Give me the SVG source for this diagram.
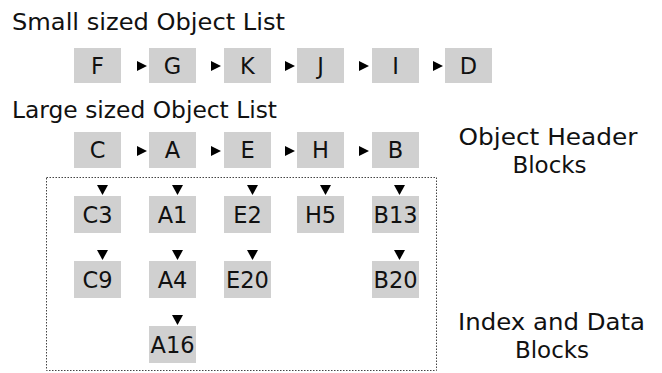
<svg xmlns="http://www.w3.org/2000/svg" width="662" height="373" viewBox="0 0 662 373">
<style>
.box{fill:#d0d0d0}
.lbl{font-family:"DejaVu Sans",Verdana,sans-serif;font-size:22.5px;fill:#111;text-anchor:middle}
.ttl{font-family:"DejaVu Sans",Verdana,sans-serif;font-size:23px;fill:#111}
.cap{font-family:"DejaVu Sans",Verdana,sans-serif;font-size:23px;fill:#111;text-anchor:middle}
.arr{fill:#000}
.frame{fill:none;stroke:#444;stroke-width:1;stroke-dasharray:1.5 1.5}
</style>
<rect width="662" height="373" fill="#fff"/>
<text class="ttl" x="12" y="30" textLength="273" lengthAdjust="spacingAndGlyphs">Small sized Object List</text>
<text class="ttl" x="12" y="118" textLength="265" lengthAdjust="spacingAndGlyphs">Large sized Object List</text>
<text class="cap" x="548" y="145" textLength="179" lengthAdjust="spacingAndGlyphs">Object Header</text>
<text class="cap" x="549.5" y="173">Blocks</text>
<text class="cap" x="551.5" y="330" textLength="187" lengthAdjust="spacingAndGlyphs">Index and Data</text>
<text class="cap" x="552" y="358">Blocks</text>
<rect class="frame" x="46.5" y="177.5" width="390" height="193"/>
<g id="small-list">
<g id="nF"><rect class="box" x="74" y="48" width="47" height="35"/><text class="lbl" x="97.5" y="74">F</text></g>
<g id="nG"><rect class="box" x="149" y="48" width="47" height="35"/><text class="lbl" x="172.5" y="74">G</text></g>
<g id="nK"><rect class="box" x="224" y="48" width="47" height="35"/><text class="lbl" x="247.5" y="74">K</text></g>
<g id="nJ"><rect class="box" x="297" y="48" width="47" height="35"/><text class="lbl" x="320.5" y="74">J</text></g>
<g id="nI"><rect class="box" x="372" y="48" width="47" height="35"/><text class="lbl" x="395.5" y="74">I</text></g>
<g id="nD"><rect class="box" x="445" y="48" width="47" height="35"/><text class="lbl" x="468.5" y="74">D</text></g>
</g>
<g id="large-list">
<g id="nC"><rect class="box" x="74" y="132" width="47" height="36"/><text class="lbl" x="97.5" y="158">C</text></g>
<g id="nA"><rect class="box" x="149" y="132" width="47" height="36"/><text class="lbl" x="172.5" y="158">A</text></g>
<g id="nE"><rect class="box" x="224" y="132" width="47" height="36"/><text class="lbl" x="247.5" y="158">E</text></g>
<g id="nH"><rect class="box" x="297" y="132" width="47" height="36"/><text class="lbl" x="320.5" y="158">H</text></g>
<g id="nB"><rect class="box" x="372" y="132" width="47" height="36"/><text class="lbl" x="395.5" y="158">B</text></g>
</g>
<g id="blocks">
<g id="nC3"><rect class="box" x="74" y="196" width="47" height="37"/><text class="lbl" x="97.5" y="222.5">C3</text></g>
<g id="nA1"><rect class="box" x="149" y="196" width="47" height="37"/><text class="lbl" x="172.5" y="222.5">A1</text></g>
<g id="nE2"><rect class="box" x="224" y="196" width="47" height="37"/><text class="lbl" x="247.5" y="222.5">E2</text></g>
<g id="nH5"><rect class="box" x="297" y="196" width="47" height="37"/><text class="lbl" x="320.5" y="222.5">H5</text></g>
<g id="nB13"><rect class="box" x="372" y="196" width="47" height="37"/><text class="lbl" x="395.5" y="222.5">B13</text></g>
<g id="nC9"><rect class="box" x="74" y="261" width="47" height="37"/><text class="lbl" x="97.5" y="287.5">C9</text></g>
<g id="nA4"><rect class="box" x="149" y="261" width="47" height="37"/><text class="lbl" x="172.5" y="287.5">A4</text></g>
<g id="nE20"><rect class="box" x="224" y="261" width="47" height="37"/><text class="lbl" x="247.5" y="287.5">E20</text></g>
<g id="nB20"><rect class="box" x="372" y="261" width="47" height="37"/><text class="lbl" x="395.5" y="287.5">B20</text></g>
<g id="nA16"><rect class="box" x="149" y="326" width="47" height="37"/><text class="lbl" x="172.5" y="352.5">A16</text></g>
</g>
<g id="connectors" class="arr">
<polygon points="137,61 137,71 147,66"/>
<polygon points="211,61 211,71 221,66"/>
<polygon points="285,61 285,71 295,66"/>
<polygon points="359,61 359,71 369,66"/>
<polygon points="433,61 433,71 443,66"/>
<polygon points="137,146 137,156 147,151"/>
<polygon points="211,146 211,156 221,151"/>
<polygon points="285,146 285,156 295,151"/>
<polygon points="359,146 359,156 369,151"/>
<polygon points="97,185 108,185 102.5,195"/>
<polygon points="172,185 183,185 177.5,195"/>
<polygon points="247,185 258,185 252.5,195"/>
<polygon points="320,185 331,185 325.5,195"/>
<polygon points="394,185 405,185 399.5,195"/>
<polygon points="97,250 108,250 102.5,260"/>
<polygon points="172,250 183,250 177.5,260"/>
<polygon points="247,250 258,250 252.5,260"/>
<polygon points="394,250 405,250 399.5,260"/>
<polygon points="172,315 183,315 177.5,325"/>
</g>
</svg>
